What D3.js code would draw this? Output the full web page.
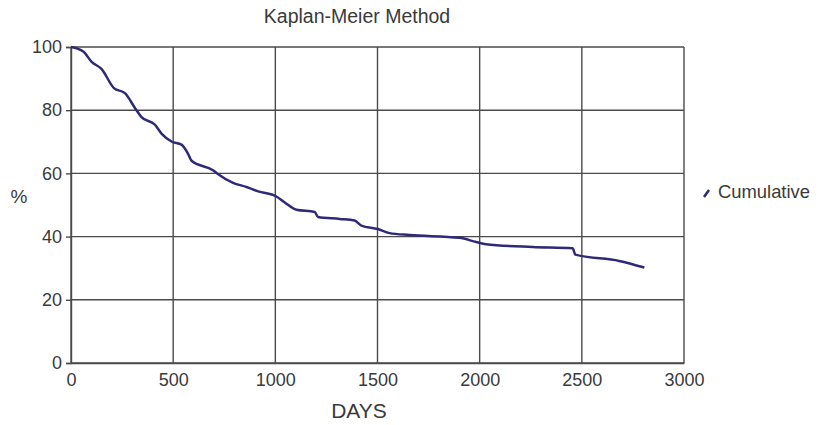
<!DOCTYPE html>
<html>
<head>
<meta charset="utf-8">
<script src="https://cdn.jsdelivr.net/npm/d3@7"></script>
<style>
  body { margin: 0; background: #fff; }
  text { font-family: "Liberation Sans", Arial, sans-serif; fill: #3a3a3a; }
</style>
</head>
<body>
<div id="chartContainer"></div>
<script>
// Survival data (days, percent)
const days = [0, 60, 101, 150, 210, 264, 313, 345, 411, 443, 492, 541, 573, 590, 695, 717, 793, 859, 916, 1005, 1046, 1103, 1193, 1209, 1315, 1388, 1421, 1502, 1559, 1657, 1901, 1983, 2031, 2259, 2455, 2468, 2683, 2806];
const cumulative = [100, 98.6, 95.3, 93.0, 87.0, 85.4, 80.7, 77.8, 75.4, 72.6, 70.1, 69.1, 66.2, 64.0, 61.0, 59.9, 57.0, 55.7, 54.3, 52.7, 50.8, 48.5, 47.8, 46.2, 45.6, 45.1, 43.5, 42.4, 41.1, 40.5, 39.6, 38.3, 37.6, 36.7, 36.3, 34.3, 32.3, 30.2];
const xTicks = [0, 500, 1000, 1500, 2000, 2500, 3000];
const yTicks = [0, 20, 40, 60, 80, 100];

// Dimensions and margins
const margin = { top: 47, right: 138, bottom: 62, left: 71 };
const width = 822 - margin.left - margin.right;
const height = 425 - margin.top - margin.bottom;

const x = d3.scaleLinear().domain([0, 3000]).range([0, width]);
const y = d3.scaleLinear().domain([0, 100]).range([height, 0]);

const svg = d3.select('#chartContainer')
    .append('svg')
    .attr('width', 822)
    .attr('height', 425);

const g = svg.append('g')
    .attr('transform', `translate(${margin.left},${margin.top})`);

// Grid
g.append('g')
    .selectAll('line')
    .data(yTicks)
    .join('line')
    .attr('x1', 0).attr('x2', width)
    .attr('y1', d => y(d)).attr('y2', d => y(d))
    .attr('stroke', '#4a4a4a')
    .attr('stroke-width', 1.4);

g.append('g')
    .selectAll('line')
    .data(xTicks)
    .join('line')
    .attr('x1', d => x(d)).attr('x2', d => x(d))
    .attr('y1', 0).attr('y2', height)
    .attr('stroke', '#4a4a4a')
    .attr('stroke-width', 1.4);

// Axes
const yAxis = g.append('g')
    .call(d3.axisLeft(y).tickValues(yTicks).tickSize(5).tickPadding(4));
const xAxis = g.append('g')
    .attr('transform', `translate(0,${height})`)
    .call(d3.axisBottom(x).tickValues(xTicks).tickFormat(d3.format('d')).tickSize(0).tickPadding(10));

[xAxis, yAxis].forEach(a => {
    a.select('.domain').attr('stroke', '#4a4a4a').attr('stroke-width', 1.4);
    a.selectAll('line').attr('stroke', '#4a4a4a').attr('stroke-width', 1.4);
    a.selectAll('text').attr('font-size', 18).attr('fill', '#3a3a3a')
        .attr('font-family', '"Liberation Sans", Arial, sans-serif');
});

// Line
const line = d3.line()
    .x((d, i) => x(days[i]))
    .y(d => y(d))
    .curve(d3.curveMonotoneX);

g.append('path')
    .datum(cumulative)
    .attr('fill', 'none')
    .attr('stroke', '#2f2a78')
    .attr('stroke-width', 2.5)
    .attr('d', line);

// Titles
svg.append('text')
    .attr('x', 357).attr('y', 23)
    .attr('text-anchor', 'middle')
    .attr('font-size', 19.5)
    .text('Kaplan-Meier Method');

svg.append('text')
    .attr('x', 359).attr('y', 418)
    .attr('text-anchor', 'middle')
    .attr('font-size', 21)
    .text('DAYS');

svg.append('text')
    .attr('x', 19).attr('y', 203)
    .attr('text-anchor', 'middle')
    .attr('font-size', 19)
    .text('%');

// Legend
svg.append('line')
    .attr('x1', 704).attr('y1', 197)
    .attr('x2', 709).attr('y2', 190)
    .attr('stroke', '#2f2a78')
    .attr('stroke-width', 2.5);

svg.append('text')
    .attr('x', 718).attr('y', 198)
    .attr('font-size', 18.4)
    .text('Cumulative');
</script>
</body>
</html>
